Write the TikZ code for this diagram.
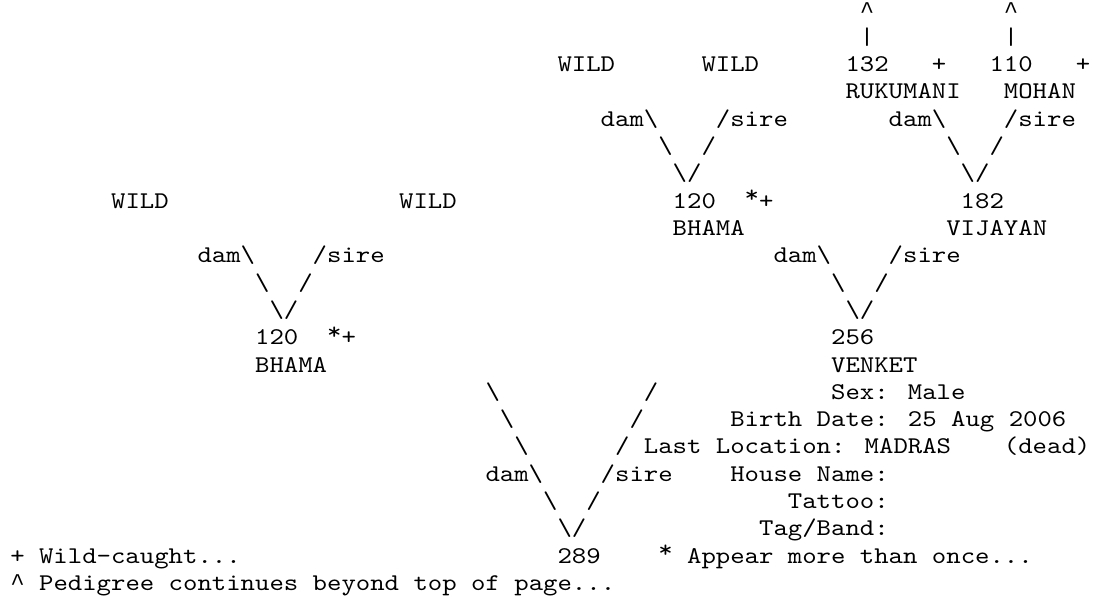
\documentclass[tikz,border=0pt]{standalone}
\usepackage{fontspec}
\usepackage{xcolor}
\usetikzlibrary{positioning, calc}
\newfontfamily\pedfont{lmmono10-regular.otf}[FakeStretch=1.143]
\newfontfamily\caretfont{Liberation Mono}
\newcommand{\bsl}{\textbackslash}
\newcommand{\crt}{{\caretfont\textasciicircum}}
\newcommand{\dupmark}{\raisebox{0.22em}{*}}

\begin{document}
\begin{tikzpicture}[x=10.8pt, y=-20.475pt,
    every node/.style={anchor=base west, inner sep=0pt, outer sep=0pt,
        font=\pedfont\fontsize{18pt}{20pt}\selectfont}]
    \path[fill=white] (0,0) rectangle (75.9,22.23);
    \useasboundingbox (0,0) rectangle (75.9,22.23);
    \begin{scope}[shift={(0.715,0.626)}]
    % great-grandparents above VIJAYAN
    \node (caretRuk) at (59,0) {\smash{\raisebox{-0.06em}{\crt}}};
    \node (caretMoh) at (69,0) {\smash{\raisebox{-0.06em}{\crt}}};
    \node (barRuk) at (59,1) {\textbar};
    \node (barMoh) at (69,1) {\textbar};
    \node (wildBd) at (38,2) {WILD};
    \node (wildBs) at (48,2) {WILD};
    \node (idRuk) at (58,2) {132};
    \node (flagRuk) at (64,2) {+};
    \node (idMoh) at (68,2) {110};
    \node (flagMoh) at (74,2) {+};
    \node (nmRuk) at (58,3) {RUKUMANI};
    \node (nmMoh) at (69,3) {MOHAN};
    \node (damBh) at (41,4) {dam\bsl};
    \node (sireBh) at (49,4) {/sire};
    \node (damVj) at (61,4) {dam\bsl};
    \node (sireVj) at (69,4) {/sire};
    \node (bsBh) at (45,5) {\bsl};
    \node (fsBh) at (48,5) {/};
    \node (bsVj) at (65,5) {\bsl};
    \node (fsVj) at (68,5) {/};
    \node (vBh) at (46,6) {\bsl/};
    \node (vVj) at (66,6) {\bsl/};
    % grandparents
    \node (wildHd) at (7,7) {WILD};
    \node (wildHs) at (27,7) {WILD};
    \node (idBh) at (46,7) {120};
    \node (flagBh) at (51,7) {\dupmark+};
    \node (idVj) at (66,7) {182};
    \node (nmBh) at (46,8) {BHAMA};
    \node (nmVj) at (65,8) {VIJAYAN};
    \node (damHm) at (13,9) {dam\bsl};
    \node (sireHm) at (21,9) {/sire};
    \node (damVk) at (53,9) {dam\bsl};
    \node (sireVk) at (61,9) {/sire};
    \node (bsHm) at (17,10) {\bsl};
    \node (fsHm) at (20,10) {/};
    \node (bsVk) at (57,10) {\bsl};
    \node (fsVk) at (60,10) {/};
    \node (vHm) at (18,11) {\bsl/};
    \node (vVk) at (58,11) {\bsl/};
    % parents
    \node (idHm) at (17,12) {120};
    \node (flagHm) at (22,12) {\dupmark+};
    \node (idVk) at (57,12) {256};
    \node (nmHm) at (17,13) {BHAMA};
    \node (nmVk) at (57,13) {VENKET};
    \foreach \i in {0,1,2} {
        \node (bsMain\i) at (33+\i,14+\i) {\bsl};
        \node (fsMain\i) at (44-\i,14+\i) {/};
    }
    \node (sexVk) at (57,14) {Sex: Male};
    \node (birthVk) at (50,15) {Birth Date: 25 Aug 2006};
    \node (locVk) at (44,16) {Last Location: MADRAS};
    \node (deadVk) at (69,16) {(dead)};
    \node (damMain) at (33,17) {dam\bsl};
    \node (sireMain) at (41,17) {/sire};
    \node (houseVk) at (50,17) {House Name:};
    \node (bsMain) at (37,18) {\bsl};
    \node (fsMain) at (40,18) {/};
    \node (tattooVk) at (54,18) {Tattoo:};
    \node (vMain) at (38,19) {\bsl/};
    \node (tagVk) at (52,19) {Tag/Band:};
    % subject and legend
    \node (keyWild) at (0,20) {+ Wild-caught...};
    \node (idMain) at (38,20) {289};
    \node (keyOnce) at (45,20) {\dupmark{} Appear more than once...};
    \node (keyTop) at (0,21) {\crt{} Pedigree continues beyond top of page...};
    \end{scope}
\end{tikzpicture}
\end{document}
